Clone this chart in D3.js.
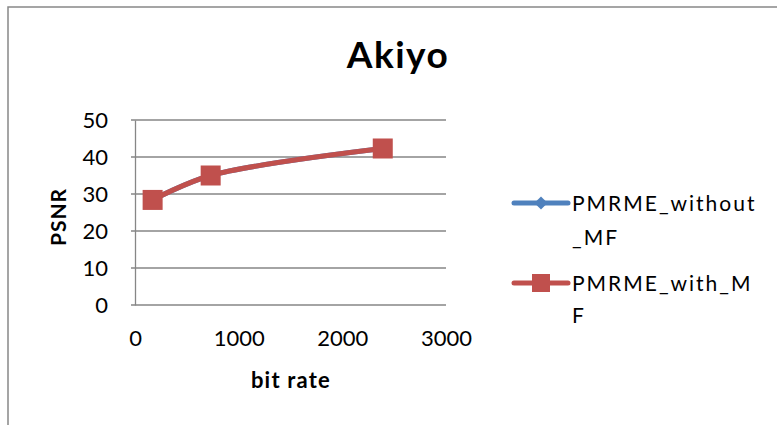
<!DOCTYPE html>
<html>
<head>
<meta charset="utf-8">
<script src="https://cdn.jsdelivr.net/npm/d3@7"></script>
<style>
  html, body { margin: 0; padding: 0; background: #fff; }
  svg { display: block; font-family: Lato, "Open Sans", sans-serif; }
</style>
</head>
<body>
<svg id="chart" width="777" height="425"></svg>
<script>
// Akiyo sequence: PSNR vs bit rate
const seriesNames = ["PMRME_without_MF", "PMRME_with_MF"];
const bitRate = [170, 730, 2390];
const psnrWithoutMF = [28.4, 35.0, 42.3];
const psnrWithMF = [28.4, 35.0, 42.3];
const xTicks = [0, 1000, 2000, 3000];
const yTicks = [0, 10, 20, 30, 40, 50];

const colors = ["#4F81BD", "#C0504D"];
const svg = d3.select("#chart");

// outer chart frame
svg.append("rect")
  .attr("x", 8).attr("y", 7).attr("width", 800).attr("height", 450)
  .attr("fill", "#fff").attr("stroke", "#888").attr("stroke-width", 1.5);

const plot = { left: 135, right: 446, top: 120, bottom: 305 };
const x = d3.scaleLinear().domain([0, 3000]).range([plot.left, plot.right]);
const y = d3.scaleLinear().domain([0, 50]).range([plot.bottom, plot.top]);

// horizontal gridlines
svg.append("g")
  .selectAll("line")
  .data(yTicks)
  .join("line")
  .attr("x1", plot.left - 4).attr("x2", plot.right)
  .attr("y1", d => y(d)).attr("y2", d => y(d))
  .attr("stroke", "#868686").attr("stroke-width", 1.3);

// axes
const yAxis = d3.axisLeft(y).tickValues(yTicks).tickSize(0).tickPadding(27);
const gy = svg.append("g").attr("transform", `translate(${plot.left},0)`).call(yAxis);
gy.select(".domain").attr("stroke", "#868686").attr("stroke-width", 1.3);
gy.selectAll("text").attr("font-size", 22).attr("fill", "#000").attr("font-family", "Lato");

const xAxis = d3.axisBottom(x).tickValues(xTicks).tickSize(0).tickPadding(25).tickFormat(d3.format("d"));
const gx = svg.append("g").attr("transform", `translate(0,${plot.bottom})`).call(xAxis);
gx.select(".domain").remove();
gx.selectAll("text").attr("font-size", 22).attr("fill", "#000").attr("font-family", "Lato");

// data series
const series = [psnrWithoutMF, psnrWithMF].map((vals, i) => ({
  name: seriesNames[i],
  color: colors[i],
  points: bitRate.map((b, j) => ({ x: b, y: vals[j] }))
}));

const line = d3.line()
  .x(d => x(d.x)).y(d => y(d.y))
  .curve(d3.curveCatmullRom.alpha(0.5));

series.forEach((s, i) => {
  const g = svg.append("g");
  g.append("path")
    .attr("d", line(s.points))
    .attr("fill", "none").attr("stroke", s.color)
    .attr("stroke-width", 5).attr("stroke-linecap", "round");
  if (i === 0) {
    g.selectAll("path.mk").data(s.points).join("path").attr("class", "mk")
      .attr("transform", d => `translate(${x(d.x)},${y(d.y)})`)
      .attr("d", d3.symbol(d3.symbolDiamond2, 150)())
      .attr("fill", s.color);
  } else {
    g.selectAll("rect").data(s.points).join("rect")
      .attr("x", d => x(d.x) - 10).attr("y", d => y(d.y) - 10)
      .attr("width", 20).attr("height", 20)
      .attr("fill", s.color);
  }
});

// title and axis titles
svg.append("text").attr("x", 398).attr("y", 68).attr("text-anchor", "middle")
  .attr("font-size", 37).attr("font-weight", "bold").attr("letter-spacing", 1.5).text("Akiyo");
svg.append("text").attr("transform", "translate(66,217) rotate(-90)")
  .attr("text-anchor", "middle").attr("font-size", 21).attr("font-weight", "bold")
  .attr("letter-spacing", 1).text("PSNR");
svg.append("text").attr("x", 291).attr("y", 388).attr("text-anchor", "middle")
  .attr("font-size", 22).attr("font-weight", "bold").attr("letter-spacing", 1.2).text("bit rate");

// legend
const legendRows = [
  { lines: ["PMRME_without", "_MF"], y: 203, gap: 34 },
  { lines: ["PMRME_with_M", "F"], y: 283, gap: 32.5 }
];
legendRows.forEach((r, i) => {
  const g = svg.append("g");
  g.append("line").attr("x1", 514).attr("x2", 568).attr("y1", r.y).attr("y2", r.y)
    .attr("stroke", colors[i]).attr("stroke-width", 5).attr("stroke-linecap", "round");
  if (i === 0) {
    g.append("path").attr("transform", `translate(541,${r.y})`)
      .attr("d", d3.symbol(d3.symbolDiamond2, 110)()).attr("fill", colors[i]);
  } else {
    g.append("rect").attr("x", 532).attr("y", r.y - 9).attr("width", 18).attr("height", 18)
      .attr("fill", colors[i]);
  }
  r.lines.forEach((t, k) => {
    g.append("text").attr("x", 572).attr("y", r.y + 7.5 + k * r.gap)
      .attr("font-size", 21).attr("letter-spacing", 2).text(t);
  });
});
</script>
</body>
</html>
